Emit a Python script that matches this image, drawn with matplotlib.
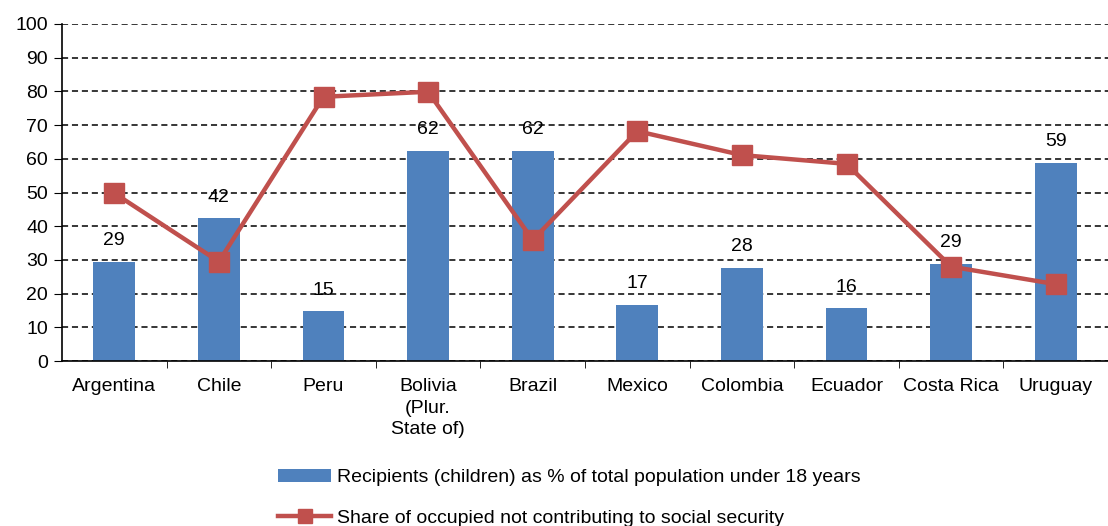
import numpy as np
import matplotlib.pyplot as plt
from matplotlib.patches import Patch
from matplotlib.lines import Line2D

plt.rcParams['font.family'] = ['Liberation Sans', 'DejaVu Sans']

countries = ["Argentina", "Chile", "Peru", "Bolivia\n(Plur.\nState of)", "Brazil",
             "Mexico", "Colombia", "Ecuador", "Costa Rica", "Uruguay"]
recipients = [29.4, 42.3, 14.8, 62.4, 62.4, 16.7, 27.7, 15.6, 28.9, 58.8]
not_contributing = [49.8, 29.5, 78.4, 79.9, 35.9, 68.2, 61.1, 58.5, 28.0, 22.8]

bar_color = "#4F81BD"
line_color = "#C0504D"
fs = 14

fig = plt.figure(figsize=(11.08, 5.26), dpi=100)
ax = fig.add_axes([62 / 1108, 1 - 361 / 526, 1046 / 1108, 337 / 526])

x = np.arange(len(countries))
ax.bar(x, recipients, width=0.4, color=bar_color, zorder=2)
ax.plot(x, not_contributing, color=line_color, linewidth=3.2, marker="s",
        markersize=14, zorder=3)

for xi, v in zip(x, recipients):
    ax.annotate(f"{v:.0f}", (xi, v), xytext=(0, 9), textcoords="offset points",
                ha="center", va="bottom", fontsize=fs, zorder=1)

ax.set_xlim(-0.5, len(countries) - 0.5)
ax.set_ylim(0, 100)
ax.set_yticks(np.arange(0, 101, 10))
ax.yaxis.grid(True, linestyle=(0, (4, 2.5)), color="black", linewidth=1.1)
ax.set_axisbelow(True)

ax.set_xticks(x)
ax.set_xticklabels(countries, fontsize=fs, linespacing=1.35, va="top")
ax.set_xticks(np.arange(0.5, len(countries) - 0.5, 1), minor=True)
ax.tick_params(axis="x", which="major", length=0, pad=12.5)
ax.tick_params(axis="x", which="minor", length=5, direction="out")
ax.tick_params(axis="y", labelsize=fs, length=6, direction="out", pad=4)

for s in ["top", "right"]:
    ax.spines[s].set_visible(False)
ax.spines["left"].set_linewidth(1.2)
ax.spines["bottom"].set_linewidth(1.2)

handles = [Patch(facecolor=bar_color, edgecolor="none"),
           Line2D([0], [0], color=line_color, linewidth=3.2, marker="s", markersize=10)]
labels = ["Recipients (children) as % of total population under 18 years",
          "Share of occupied not contributing to social security"]
fig.legend(handles, labels, loc="upper left", bbox_to_anchor=(278 / 1108, 1 - 469 / 526),
           frameon=False, fontsize=fs, handlelength=2.75, handleheight=0.65,
           handletextpad=0.3, labelspacing=1.2, borderpad=0, borderaxespad=0)

fig.savefig("out.png", dpi=100)
